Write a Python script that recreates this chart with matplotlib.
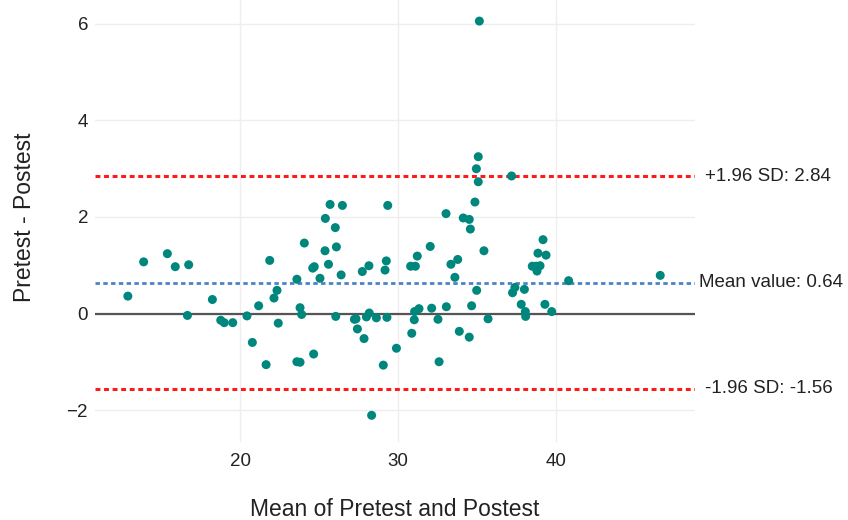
import matplotlib
matplotlib.use("Agg")
import matplotlib.pyplot as plt

plt.rcParams['font.family'] = ['Liberation Sans', 'DejaVu Sans']

# mean of pretest and postest
mean_vals = [12.9, 13.9, 15.4, 15.9, 16.75, 16.67, 18.25, 18.78, 19.0, 19.54,
             20.44, 20.78, 21.18, 21.65, 21.88, 22.15, 22.34, 22.42, 23.6, 23.8,
             23.9, 23.6, 23.8, 24.07, 24.6, 24.7, 25.06, 24.66, 25.4, 25.7,
             26.48, 26.03, 25.38, 26.1, 25.6, 26.4, 26.06, 27.24, 27.34, 27.43,
             27.85, 27.74, 28.16, 28.18, 28.0, 28.63, 29.07, 28.33, 29.18, 29.26,
             29.35, 29.3,
             29.9, 30.87, 31.03, 31.05, 31.33, 30.8, 31.1, 31.22, 32.04, 32.13,
             32.53, 32.6, 33.04, 33.06, 33.35, 33.78, 33.6, 33.88, 34.13, 34.51,
             34.58, 34.51, 34.66, 34.87, 34.98, 35.08, 34.96, 35.08, 35.44, 35.7,
             37.19, 37.25, 37.4, 38.0, 37.8, 38.06, 38.08, 38.5, 38.73, 38.8,
             38.99, 38.86, 39.37, 39.18, 39.3, 39.73, 40.8, 46.6, 35.15]

# pretest - postest
diff_vals = [0.36, 1.07, 1.24, 0.97, 1.01, -0.04, 0.29, -0.14, -0.19, -0.19,
             -0.05, -0.6, 0.16, -1.06, 1.1, 0.32, 0.48, -0.2, 0.71, 0.12,
             -0.02, -1.0, -1.01, 1.46, 0.94, 0.97, 0.73, -0.84, 1.97, 2.26,
             2.24, 1.78, 1.3, 1.38, 1.02, 0.8, -0.06, -0.12, -0.11, -0.32,
             -0.52, 0.87, 0.99, 0.01, -0.07, -0.09, -1.07, -2.11, 0.9, 1.09,
             2.24, -0.08,
             -0.72, -0.41, -0.13, 0.04, 0.1, 0.98, 0.98, 1.19, 1.39, 0.11,
             -0.12, -1.0, 2.07, 0.14, 1.02, 1.12, 0.75, -0.37, 1.98, 1.95,
             1.75, -0.49, 0.16, 2.31, 0.48, 2.73, 3.0, 3.25, 1.3, -0.11,
             2.85, 0.43, 0.54, 0.5, 0.19, 0.04, -0.06, 0.98, 0.98, 0.88,
             0.99, 1.25, 1.21, 1.53, 0.19, 0.04, 0.68, 0.79, 6.06]

mean_diff = 0.64
upper_loa = 2.84
lower_loa = -1.56

x_ticks = [20, 30, 40]
y_ticks = [-2, 0, 2, 4, 6]

W, H = 848, 520
fig = plt.figure(figsize=(W / 100, H / 100), dpi=100)
# plot area in pixels: x 95..695, y 0..442 from top
ax = fig.add_axes([95 / W, (H - 442) / H, 600 / W, 442 / H])

ax.set_xlim(10.82, 48.8)
ax.set_ylim(-2.663, 6.497)

for s in ax.spines.values():
    s.set_visible(False)
ax.set_xticks(x_ticks)
ax.set_yticks(y_ticks)
ax.tick_params(length=0, labelsize=13.5, colors='#222222')
ax.tick_params(axis='x', pad=8)
ax.tick_params(axis='y', pad=5)
ax.grid(True, color='#eeeeee', linewidth=1)
ax.set_axisbelow(True)

ax.axhline(0, color='#555555', linewidth=1.6, zorder=1)
dots = (1.6, 1.2)
ax.axhline(upper_loa, color='#ff1a1a', linewidth=2.2, dashes=dots, zorder=2)
ax.axhline(mean_diff, color='#4a83c9', linewidth=2.0, dashes=dots, zorder=2)
ax.axhline(lower_loa, color='#ff1a1a', linewidth=2.2, dashes=dots, zorder=2)

ax.scatter(mean_vals, diff_vals, s=42, color='#00877d', edgecolors='none', zorder=3)

tr = ax.get_yaxis_transform()
ax.text(1 + 10 / 600, upper_loa, '+1.96 SD: %.2f' % upper_loa, transform=tr,
        va='center', ha='left', fontsize=13.5, color='#222222', clip_on=False)
ax.text(1 + 4 / 600, mean_diff, 'Mean value: %.2f' % mean_diff, transform=tr,
        va='center', ha='left', fontsize=13.5, color='#222222', clip_on=False)
ax.text(1 + 10 / 600, lower_loa, '-1.96 SD: %.2f' % lower_loa, transform=tr,
        va='center', ha='left', fontsize=13.5, color='#222222', clip_on=False)

fig.text(395 / W, 1 - 516 / H, 'Mean of Pretest and Postest', ha='center', va='baseline',
         fontsize=16.5, color='#222222')
fig.text(25 / W, 1 - 217 / H, 'Pretest - Postest', ha='center', va='center',
         rotation=90, fontsize=16.5, color='#222222')

fig.savefig('out.png', dpi=100, facecolor='white')
